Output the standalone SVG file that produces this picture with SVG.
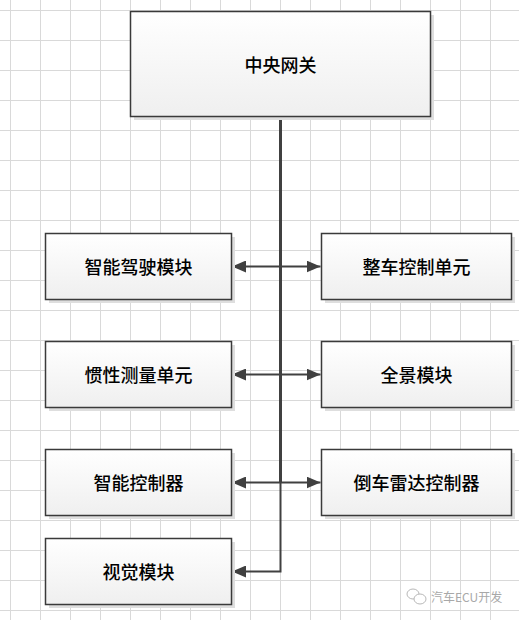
<svg xmlns="http://www.w3.org/2000/svg" width="519" height="620" viewBox="0 0 519 620">
<style>
.box{fill:url(#g);stroke:#3a3a3a;stroke-width:1.5}
.sh{fill:#dedede}
.lbl{font-family:"Noto Sans CJK SC","Noto Sans CJK JP",sans-serif;font-size:18px;font-weight:500;fill:#000;text-anchor:middle;dominant-baseline:central}
.con{stroke:#404040;fill:none}
.wm{font-family:"Noto Sans CJK SC",sans-serif;font-size:12px;fill:#a8a8a8}
</style>
<defs>
<pattern id="grid" patternUnits="userSpaceOnUse" x="10" y="10" width="30" height="30">
<path d="M0.5 0V30M0 0.5H30" stroke="#d9d9d9" stroke-width="1" fill="none"/>
</pattern>
<linearGradient id="g" x1="0" y1="0" x2="0" y2="1">
<stop offset="0" stop-color="#ffffff"/>
<stop offset="1" stop-color="#efefef"/>
</linearGradient>
<marker id="ah" markerUnits="userSpaceOnUse" markerWidth="14" markerHeight="12" refX="14" refY="6" orient="auto-start-reverse">
<path d="M0 0L14 6L0 12Z" fill="#404040"/>
</marker>
</defs>
<rect width="519" height="620" fill="#ffffff"/>
<rect width="519" height="620" fill="url(#grid)"/>

<g id="connectors">
<path class="con" d="M280.5 116V482" stroke-width="3"/>
<path class="con" d="M280.5 480V571.5H232" stroke-width="2" marker-end="url(#ah)"/>
<line class="con" x1="232" y1="266.5" x2="320.5" y2="266.5" stroke-width="2" marker-start="url(#ah)" marker-end="url(#ah)"/>
<line class="con" x1="232" y1="374.5" x2="320.5" y2="374.5" stroke-width="2" marker-start="url(#ah)" marker-end="url(#ah)"/>
<line class="con" x1="232" y1="482.5" x2="320.5" y2="482.5" stroke-width="2" marker-start="url(#ah)" marker-end="url(#ah)"/>
</g>

<g id="n-gateway">
<rect class="sh" x="134" y="15" width="300" height="105"/>
<rect class="box" x="130.5" y="11.5" width="300" height="105"/>
<text class="lbl" x="280.5" y="63.5">中央网关</text>
</g>
<g id="n-adas">
<rect class="sh" x="49" y="237" width="186" height="66"/>
<rect class="box" x="45.5" y="233.5" width="186" height="66"/>
<text class="lbl" x="138.5" y="266">智能驾驶模块</text>
</g>
<g id="n-vcu">
<rect class="sh" x="325" y="237" width="190" height="66"/>
<rect class="box" x="321.5" y="233.5" width="190" height="66"/>
<text class="lbl" x="416.5" y="266">整车控制单元</text>
</g>
<g id="n-imu">
<rect class="sh" x="49" y="345" width="186" height="66"/>
<rect class="box" x="45.5" y="341.5" width="186" height="66"/>
<text class="lbl" x="138.5" y="374">惯性测量单元</text>
</g>
<g id="n-surround">
<rect class="sh" x="325" y="345" width="190" height="66"/>
<rect class="box" x="321.5" y="341.5" width="190" height="66"/>
<text class="lbl" x="416.5" y="374">全景模块</text>
</g>
<g id="n-smart">
<rect class="sh" x="49" y="453" width="186" height="66"/>
<rect class="box" x="45.5" y="449.5" width="186" height="66"/>
<text class="lbl" x="138.5" y="482">智能控制器</text>
</g>
<g id="n-radar">
<rect class="sh" x="325" y="453" width="190" height="66"/>
<rect class="box" x="321.5" y="449.5" width="190" height="66"/>
<text class="lbl" x="416.5" y="482">倒车雷达控制器</text>
</g>
<g id="n-vision">
<rect class="sh" x="49" y="542" width="186" height="66"/>
<rect class="box" x="45.5" y="538.5" width="186" height="66"/>
<text class="lbl" x="138.5" y="571">视觉模块</text>
</g>

<g id="watermark">
<ellipse cx="413" cy="594" rx="6" ry="5" fill="none" stroke="#b8b8b8" stroke-width="1"/>
<ellipse cx="420" cy="599" rx="6" ry="5" fill="#ffffff" stroke="#b8b8b8" stroke-width="1"/>
<text class="wm" x="431" y="602">汽车ECU开发</text>
</g>
</svg>
